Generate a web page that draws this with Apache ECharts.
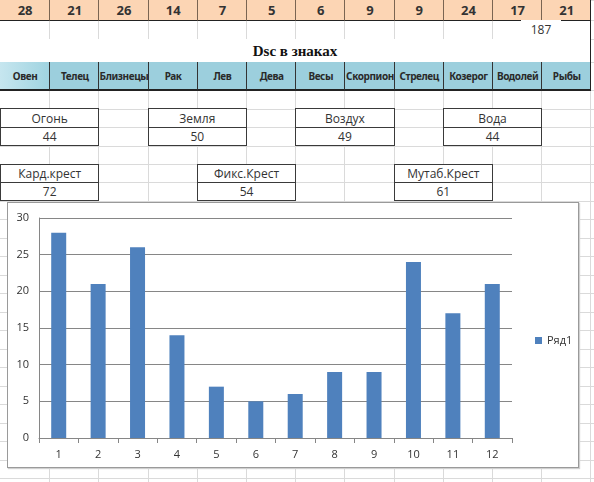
<!DOCTYPE html>
<html><head><meta charset="utf-8">
<script src="https://cdn.jsdelivr.net/npm/echarts@6/dist/echarts.min.js"></script>
<style>
html,body{margin:0;padding:0}
body{width:594px;height:482px;overflow:hidden;background:#fff;position:relative;font-family:"Open Sans","Noto Sans",sans-serif}
.a{position:absolute;box-sizing:border-box}
.c{position:absolute;box-sizing:border-box;display:flex;align-items:center;justify-content:center;color:#333;white-space:nowrap}
</style></head><body>
<div id="sheet"></div>
<div class="a" style="left:7px;top:202px;width:572px;height:266px;border:1px solid #9a9a9a;background:#fff;box-shadow:1px 1px 1px #d0d0d0">
  <div id="chart" style="position:absolute;left:0;top:0;width:570px;height:264px"></div>
</div>
<script>
// ---- data ----
const signs = ['Овен','Телец','Близнецы','Рак','Лев','Дева','Весы','Скорпион','Стрелец','Козерог','Водолей','Рыбы'];
const counts = [28,21,26,14,7,5,6,9,9,24,17,21];
const totalCount = 187;
const tableTitle = 'Dsc в знаках';
const elements = ['Огонь','Земля','Воздух','Вода'];
const elementValues = [44,50,49,44];
const crosses = ['Кард.крест','Фикс.Крест','Мутаб.Крест'];
const crossValues = [72,54,61];
const xLabels = ['1','2','3','4','5','6','7','8','9','10','11','12'];
const seriesName = 'Ряд1';

// ---- sheet layout ----
const CW = 49.2;
const rows = [0,20,39,62,90,108.5,127,145.5,164,182,200.5,219,237.5,256,274.5,293,311.5,330,348.5,367,385.5,404,422.5,441,459.5,478];
const sheet = document.getElementById('sheet');
function el(cls, st, txt){const d=document.createElement('div');d.className=cls;Object.assign(d.style,st);if(txt!==undefined)d.textContent=txt;sheet.appendChild(d);return d;}
// light grid
for(let i=1;i<=12;i++) el('a',{left:(i*CW)+'px',top:'0px',width:'1px',height:'482px',background:'#dadada'});
for(const y of rows) el('a',{left:'0px',top:y+'px',width:'594px',height:'1px',background:'#dadada'});
// row 1 : counts (orange)
counts.forEach((v,i)=>{
  el('c',{left:(i*CW)+'px',top:'0px',width:(CW+1)+'px',height:'21px',background:'#fcd5b4',borderLeft:i?'1px solid #7a6552':'none',borderBottom:'1px solid #222',font:'bold 13px "Open Sans",sans-serif'},String(v));
});
// row 2 : total
el('a',{left:'0px',top:'20px',width:'591px',height:'20px',borderBottom:'1px solid #222',borderRight:'1px solid #222'});
el('c',{left:(521)+'px',top:'20px',width:'40px',height:'19px',background:'#fff',font:'12px "Open Sans",sans-serif'},String(totalCount));
// row 3 : title
el('c',{left:'0px',top:'39px',width:'591px',height:'24px',background:'#fff',borderRight:'1px solid #222',borderBottom:'1px solid #222',font:'bold 15px "Liberation Serif",serif',color:'#111',paddingTop:'2px'},tableTitle);
// row 4 : signs (blue)
signs.forEach((s,i)=>{
  el('c',{left:(i*CW)+'px',top:'62px',width:(CW+1)+'px',height:'29px',background:i===0?'linear-gradient(90deg,#c6e6ef,#9fd3e0)':'#9ccfdd',borderLeft:i?'1px solid #333':'none',borderBottom:'2px solid #222',font:'bold 10px "Noto Sans",sans-serif',letterSpacing:'-0.4px',color:'#2a2a2a'},s);
});
// right borders of the header block
el('a',{left:'590px',top:'0px',width:'1px',height:'91px',background:'#222'});
// element boxes
const elCols=[0,3,6,9];
elements.forEach((s,i)=>{
  const x=elCols[i]*CW;
  el('c',{left:x+'px',top:'108px',width:(2*CW+1)+'px',height:'20px',background:'#fff',border:'1.5px solid #3a3a3a',font:'12px "Open Sans",sans-serif'},s);
  el('c',{left:x+'px',top:'126.5px',width:(2*CW+1)+'px',height:'19.5px',background:'#fff',border:'1.5px solid #3a3a3a',font:'12px "Open Sans",sans-serif'},String(elementValues[i]));
});
const crCols=[0,4,8];
crosses.forEach((s,i)=>{
  const x=crCols[i]*CW;
  el('c',{left:x+'px',top:'163.5px',width:(2*CW+1)+'px',height:'19.5px',background:'#fff',border:'1.5px solid #3a3a3a',font:'12px "Open Sans",sans-serif'},s);
  el('c',{left:x+'px',top:'181.5px',width:(2*CW+1)+'px',height:'19.5px',background:'#fff',border:'1.5px solid #3a3a3a',font:'12px "Open Sans",sans-serif'},String(crossValues[i]));
});

// ---- chart ----
const chart = echarts.init(document.getElementById('chart'));
chart.setOption({
  animation:false,
  textStyle:{fontFamily:'"Open Sans","Noto Sans",sans-serif'},
  grid:{left:31,top:15,width:473,height:220},
  legend:{data:[seriesName],left:522,top:127,icon:'rect',itemWidth:7,itemHeight:7,itemGap:4,
    textStyle:{fontSize:11,color:'#333'}},
  xAxis:{type:'category',data:xLabels,
    axisLine:{lineStyle:{color:'#868686'}},
    axisTick:{show:true,length:5,lineStyle:{color:'#868686'}},
    axisLabel:{fontSize:11,color:'#333',margin:11}},
  yAxis:{type:'value',min:0,max:30,interval:5,
    axisLine:{show:true,lineStyle:{color:'#868686'}},
    axisTick:{show:false},
    splitLine:{lineStyle:{color:'#868686'}},
    axisLabel:{fontSize:11,color:'#333',margin:10}},
  series:[{name:seriesName,type:'bar',data:counts,barWidth:15,itemStyle:{color:'#4f81bd'}}]
});
</script>
</body></html>
